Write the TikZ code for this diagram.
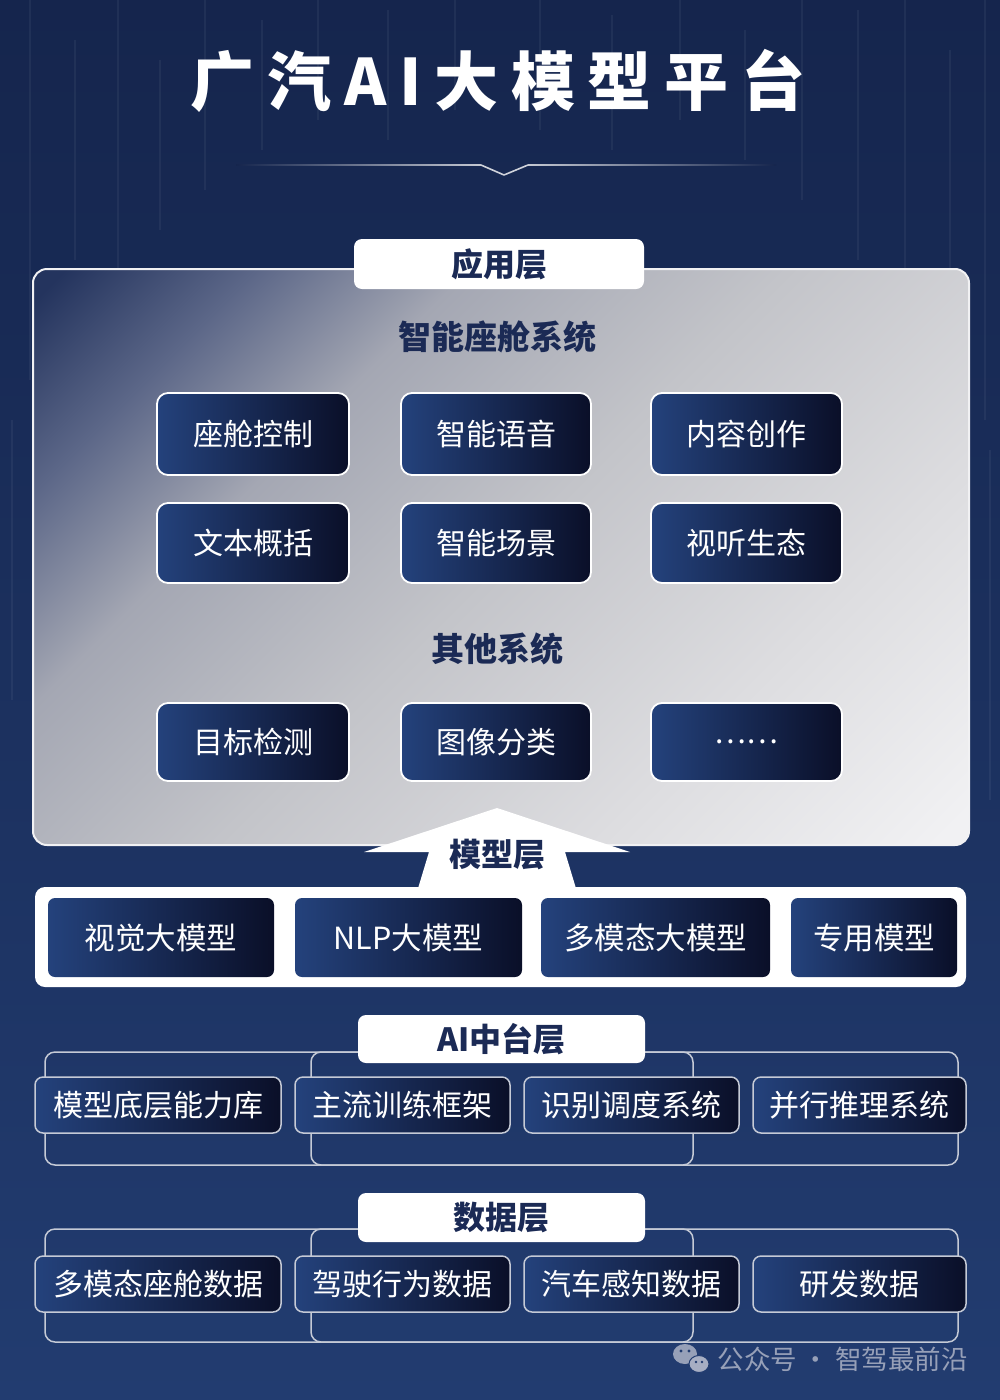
\documentclass[tikz,border=0pt]{standalone}
\usepackage{fontspec}
\setmainfont{Noto Sans CJK SC}
\definecolor{bgtop}{HTML}{15254D}
\definecolor{bgbot}{HTML}{223C70}
\definecolor{navytxt}{HTML}{1B2A55}
\definecolor{boxL}{HTML}{24427C}
\definecolor{boxR}{HTML}{0A0F28}
\definecolor{pcA}{HTML}{24345E}
\definecolor{pcB}{HTML}{5C6788}
\definecolor{pcC}{HTML}{A4A7B3}
\definecolor{pcD}{HTML}{C3C4C9}
\definecolor{pcE}{HTML}{DDDDE0}
\definecolor{pcF}{HTML}{F1F1F3}
\definecolor{panelB}{HTML}{9FA3B1}
\definecolor{outl}{HTML}{C5CAD6}
\definecolor{wm}{HTML}{97A0B8}
\pgfdeclareverticalshading{panelshade}{100bp}{color(0bp)=(pcF); color(16bp)=(pcF);
  color(32bp)=(pcE); color(50bp)=(pcD); color(65bp)=(pcC); color(75bp)=(pcB);
  color(84bp)=(pcA); color(100bp)=(pcA)}
\newcommand\fsz[1]{\fontsize{#1}{#1}\selectfont}
\begin{document}
\begin{tikzpicture}[x=1pt,y=-1pt,
  appbox/.style={draw=white, line width=1.8pt, rounded corners=11pt,
    left color=boxL, right color=boxR, text=white, inner sep=0pt,
    font=\fsz{30}},
  modbox/.style={rounded corners=7pt, left color=boxL, right color=boxR,
    text=white, inner sep=0pt, minimum height=79pt, font=\fsz{30.5}},
  midbox/.style={draw=outl, line width=1.5pt, rounded corners=8pt,
    left color=boxL, right color=boxR, text=white, inner sep=0pt,
    minimum height=56pt, font=\fsz{30}},
  tabbox/.style={fill=white, rounded corners=8pt, text=navytxt, inner sep=0pt,
    font=\fsz{32}\bfseries},
  subtitle/.style={text=navytxt, font=\fsz{33}\bfseries},
  bracket/.style={draw=outl, line width=1.5pt, rounded corners=10pt},
]
\useasboundingbox (0,0) rectangle (1000,1400);
% background
\shade[top color=bgtop, bottom color=bgbot] (0,0) rectangle (1000,1400);
\foreach \x/\ya/\yb in {30/0/380, 75/40/260, 118/0/330, 160/60/230, 205/0/190,
  262/20/150, 318/0/120, 388/10/140, 455/0/110, 540/0/130, 612/15/150,
  680/0/120, 745/30/160, 802/0/200, 858/10/260, 905/0/320, 950/50/300,
  985/0/420, 12/420/700, 990/450/800}
  \draw[white, opacity=0.05, line width=1.2pt] (\x,\ya) -- (\x,\yb);
% title
\node[text=white] (title) at (498,81)
  {\fsz{64}\bfseries\addfontfeatures{LetterSpace=20}广汽AI大模型平台};
\coordinate (vl) at (481,165);
\coordinate (vb) at (504,175);
\coordinate (vr) at (528,165);
\shade[left color=bgtop, right color=white!75!bgtop] (236,164.2) rectangle (481,165.8);
\shade[left color=white!75!bgtop, right color=bgtop] (528,164.2) rectangle (776,165.8);
\draw[white!80!bgtop, line width=1.6pt, line join=round] (vl) -- (vb) -- (vr);
% application layer panel
\path[draw=white!85!panelB, line width=2pt, rounded corners=14pt,
  shading=panelshade, shading angle=45]
  (33,269) rectangle (969,845);
\node[tabbox, minimum width=290pt, minimum height=50pt] (apptab) at (499,264) {应用层};
\node[subtitle] (sub1) at (497,337) {智能座舱系统};
\node[appbox, minimum width=192pt, minimum height=82pt] (a1) at (253,434) {座舱控制};
\node[appbox, minimum width=190pt, minimum height=82pt] (a2) at (496,434) {智能语音};
\node[appbox, minimum width=191pt, minimum height=82pt] (a3) at (746.5,434) {内容创作};
\node[appbox, minimum width=192pt, minimum height=80pt] (a4) at (253,543) {文本概括};
\node[appbox, minimum width=190pt, minimum height=80pt] (a5) at (496,543) {智能场景};
\node[appbox, minimum width=191pt, minimum height=80pt] (a6) at (746.5,543) {视听生态};
\node[subtitle] (sub2) at (497,649) {其他系统};
\node[appbox, minimum width=192pt, minimum height=78pt] (a7) at (253,742) {目标检测};
\node[appbox, minimum width=190pt, minimum height=78pt] (a8) at (496,742) {图像分类};
\node[appbox, minimum width=191pt, minimum height=78pt] (a9) at (746.5,742) {……};
% arrow
\fill[white] (497,808) -- (630,852) -- (565,852) -- (581,905) -- (413,905)
  -- (429,852) -- (364,852) -- cycle;
\node[text=navytxt, font=\fsz{32}\bfseries] (modlabel) at (497,855) {模型层};
% model layer
\fill[white, rounded corners=10pt] (35,887) rectangle (966,987);
\node[modbox, minimum width=226pt] (m1) at (161,937.5) {视觉大模型};
\node[modbox, minimum width=227pt] (m2) at (408.5,937.5) {NLP大模型};
\node[modbox, minimum width=229pt] (m3) at (655.5,937.5) {多模态大模型};
\node[modbox, minimum width=166pt] (m4) at (874,937.5) {专用模型};
% AI middle layer
\draw[bracket] (45,1052) rectangle (958,1165);
\draw[bracket] (311,1052) rectangle (693,1165);
\node[tabbox, minimum width=287pt, minimum height=48pt] (aitab) at (501.5,1039) {AI中台层};
\node[midbox, minimum width=246pt] (b1) at (158,1105) {模型底层能力库};
\node[midbox, minimum width=215pt] (b2) at (402.5,1105) {主流训练框架};
\node[midbox, minimum width=215pt] (b3) at (631.5,1105) {识别调度系统};
\node[midbox, minimum width=213pt] (b4) at (859.5,1105) {并行推理系统};
% data layer
\draw[bracket] (45,1229) rectangle (958,1342);
\draw[bracket] (311,1229) rectangle (693,1342);
\node[tabbox, minimum width=287pt, minimum height=49pt] (datatab) at (501.5,1217.5) {数据层};
\node[midbox, minimum width=246pt] (d1) at (158,1284) {多模态座舱数据};
\node[midbox, minimum width=215pt] (d2) at (402.5,1284) {驾驶行为数据};
\node[midbox, minimum width=215pt] (d3) at (631.5,1284) {汽车感知数据};
\node[midbox, minimum width=213pt] (d4) at (859.5,1284) {研发数据};
% watermark
\fill[wm] (685,1354) ellipse [x radius=12, y radius=10];
\fill[wm!85!white, draw=bgbot, line width=1pt] (699,1364) ellipse [x radius=10, y radius=8.5];
\fill[bgbot] (681,1351) circle (1.6) (689,1351) circle (1.6)
  (696,1362) circle (1.3) (702,1362) circle (1.3);
\node[anchor=west, text=wm, font=\fsz{26.5}] (wmtext) at (714,1359) {公众号 · 智驾最前沿};
\end{tikzpicture}
\end{document}
